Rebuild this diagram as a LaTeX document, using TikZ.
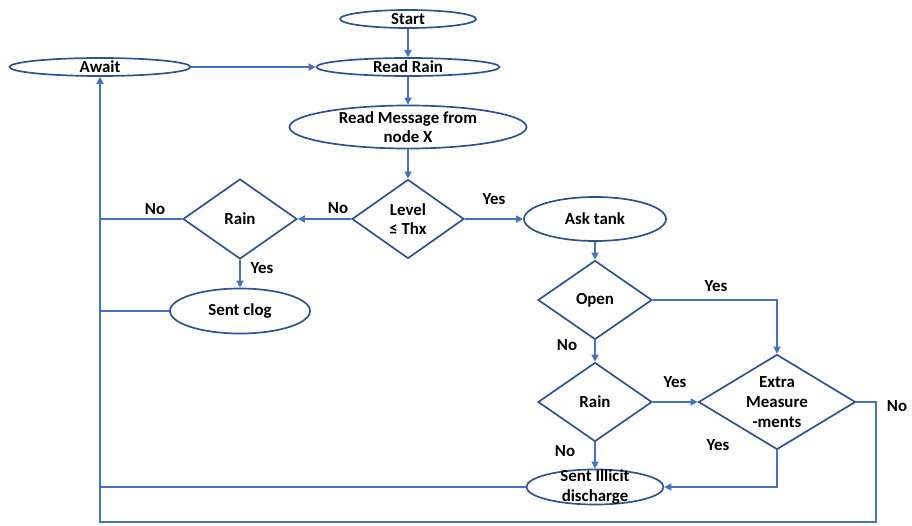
\documentclass[tikz,border=0pt]{standalone}
\usepackage{fontspec}
\setmainfont{Carlito}
\usetikzlibrary{shapes.geometric,arrows.meta}
\definecolor{shape_blue}{HTML}{2F528F}
\definecolor{line_blue}{HTML}{4472C4}
\begin{document}
\begin{tikzpicture}[x=0.025cm,y=-0.025cm,
    term_node/.style={ellipse,draw=shape_blue,line width=1.2pt,inner sep=0pt},
    cond_node/.style={diamond,draw=shape_blue,line width=1.2pt,inner sep=0pt},
    txt/.style={font=\fontsize{12}{14}\selectfont\bfseries,align=center},
    flow/.style={draw=line_blue,line width=1.1pt,-{Triangle[length=5pt,width=5pt]}},
    link/.style={draw=line_blue,line width=1.1pt}]
    \useasboundingbox (0,0) rectangle (912,525);
    \node[term_node,minimum width=3.4cm,minimum height=0.45cm,label={[txt]center:Start}] (1) at (408,19) {};
    \node[term_node,minimum width=4.575cm,minimum height=0.45cm,label={[txt]center:Read Rain}] (2) at (408,67) {};
    \node[term_node,minimum width=4.525cm,minimum height=0.45cm,label={[txt]center:Await}] (3) at (100,67) {};
    \node[term_node,minimum width=5.925cm,minimum height=1.075cm,label={[txt]center:Read Message from\\node X}] (4) at (408,127) {};
    \node[cond_node,minimum width=2.8cm,minimum height=1.975cm,label={[txt]center:Level\\≤ Thx}] (5) at (408,219) {};
    \node[cond_node,minimum width=2.85cm,minimum height=2cm,label={[txt]center:Rain}] (6) at (240,219) {};
    \node[term_node,minimum width=3.5cm,minimum height=1.125cm,label={[txt]center:Sent clog}] (7) at (240,311) {};
    \node[term_node,minimum width=3.55cm,minimum height=1.1cm,label={[txt]center:Ask tank}] (8) at (595,219) {};
    \node[cond_node,minimum width=2.85cm,minimum height=1.975cm,label={[txt]center:Open}] (9) at (595,300) {};
    \node[cond_node,minimum width=2.85cm,minimum height=1.975cm,label={[txt]center:Rain}] (10) at (595,402) {};
    \node[cond_node,minimum width=3.925cm,minimum height=2.375cm,label={[txt]center:Extra\\Measure\\-ments}] (11) at (777,402) {};
    \node[term_node,minimum width=3.425cm,minimum height=0.875cm,label={[txt]center:Sent Illicit\\discharge}] (12) at (595,487) {};
    \coordinate (c1) at (100,522);
    \coordinate (c2) at (876,522);

    \node[txt] (n1) at (338,208) {No};
    \node[txt] (y1) at (494,199) {Yes};
    \node[txt] (n2) at (155,209) {No};
    \node[txt] (y2) at (262,268) {Yes};
    \node[txt] (y3) at (716,286) {Yes};
    \node[txt] (n3) at (567,345) {No};
    \node[txt] (y4) at (675,382) {Yes};
    \node[txt] (n4) at (565,451) {No};
    \node[txt] (y5) at (718,445) {Yes};
    \node[txt] (n5) at (897,406) {No};

    \draw[flow] (1) -- (2);
    \draw[flow] (2) -- (4);
    \draw[flow] (4) -- (5);
    \draw[flow] (3) -- (2);
    \draw[flow] (5) -- (6);
    \draw[flow] (5) -- (8);
    \draw[link] (6.west) -- (6.west -| 3);
    \draw[flow] (6) -- (7);
    \draw[link] (7.west) -- (7.west -| 3);
    \draw[flow] (8) -- (9);
    \draw[flow] (9.east) -| (11.north);
    \draw[flow] (9) -- (10);
    \draw[flow] (10) -- (11);
    \draw[flow] (10) -- (12);
    \draw[flow] (11.south) |- (12.east);
    \draw[link] (12.west) -- (12.west -| 3);
    \draw[flow] (11.east) -| (c2) -- (c1) -- (3.south);
\end{tikzpicture}
\end{document}
